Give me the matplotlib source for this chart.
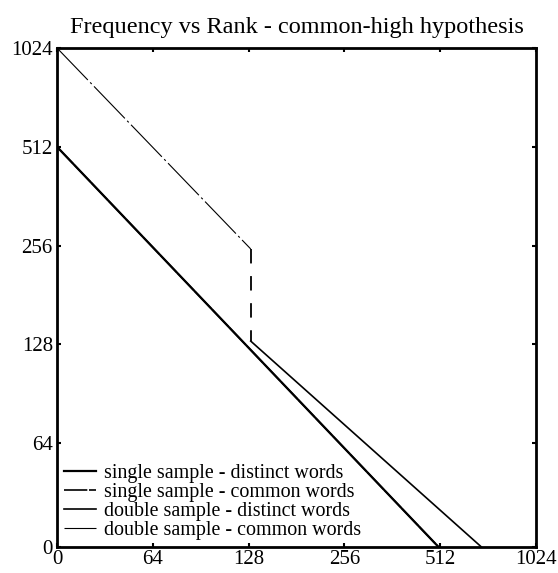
import matplotlib
matplotlib.use("Agg")
import matplotlib.pyplot as plt

plt.rcParams['font.family'] = ['Liberation Serif', 'DejaVu Serif']

title = "Frequency vs Rank - common-high hypothesis"

# axis ticks (log2 spaced, the bottom tick is labelled "0")
x_ticks = [32, 64, 128, 256, 512, 1024]
x_labels = ["0", "64", "128", "256", "512", "1024"]
y_ticks = [30.9, 64, 128, 256, 512, 1024]
y_labels = ["0", "64", "128", "256", "512", "1024"]

# series
rank_single = [32, 506]
freq_single_distinct = [512, 30.9]
freq_single_common = [512, 30.9]

rank_double_common = [32, 130]
freq_double_common = [1024, 250]

rank_double_distinct = [130, 690]
freq_double_distinct = [131, 30.9]

labels = ["single sample - distinct words", "single sample - common words",
          "double sample - distinct words", "double sample - common words"]

fig = plt.figure(figsize=(5.58, 5.73), dpi=100)
ax = fig.add_axes([57/558, 26/573, 479/558, 499/573])
ax.set_xscale("log", base=2)
ax.set_yscale("log", base=2)

l1, = ax.plot(rank_single, freq_single_distinct, color="black", lw=1.6)
l2, = ax.plot(rank_single, freq_single_common, color="black", lw=1.2, dashes=(14, 1))
l3, = ax.plot(rank_double_distinct, freq_double_distinct, color="black", lw=1.2)
l4, = ax.plot(rank_double_common, freq_double_common, color="black", lw=0.8,
              dashes=(40, 3, 2, 3))
# jump between the two double-sample curves
ax.plot([rank_double_common[-1], rank_double_distinct[0]],
        [freq_double_common[-1], freq_double_distinct[0]],
        color="black", lw=1.3, dashes=(8, 7))

ax.set_xlim(x_ticks[0], x_ticks[-1])
ax.set_ylim(y_ticks[0], y_ticks[-1])
ax.set_xticks(x_ticks)
ax.set_xticklabels(x_labels)
ax.set_yticks(y_ticks)
ax.set_yticklabels(y_labels)
ax.minorticks_off()
ax.tick_params(direction="in", length=3, width=1.5, labelsize=15,
               top=True, right=True)
ax.tick_params(axis="x", pad=2.5)
ax.tick_params(axis="y", pad=3)
for s in ax.spines.values():
    s.set_linewidth(2.0)

ax.set_title(title, fontsize=17.5, pad=11)

ax.legend([l1, l2, l3, l4], labels, loc="lower left", frameon=False,
          fontsize=14.4, handlelength=1.6, handletextpad=0.4, labelspacing=0.0,
          borderaxespad=0.15, borderpad=0.2)

fig.savefig("out.png", dpi=100)
